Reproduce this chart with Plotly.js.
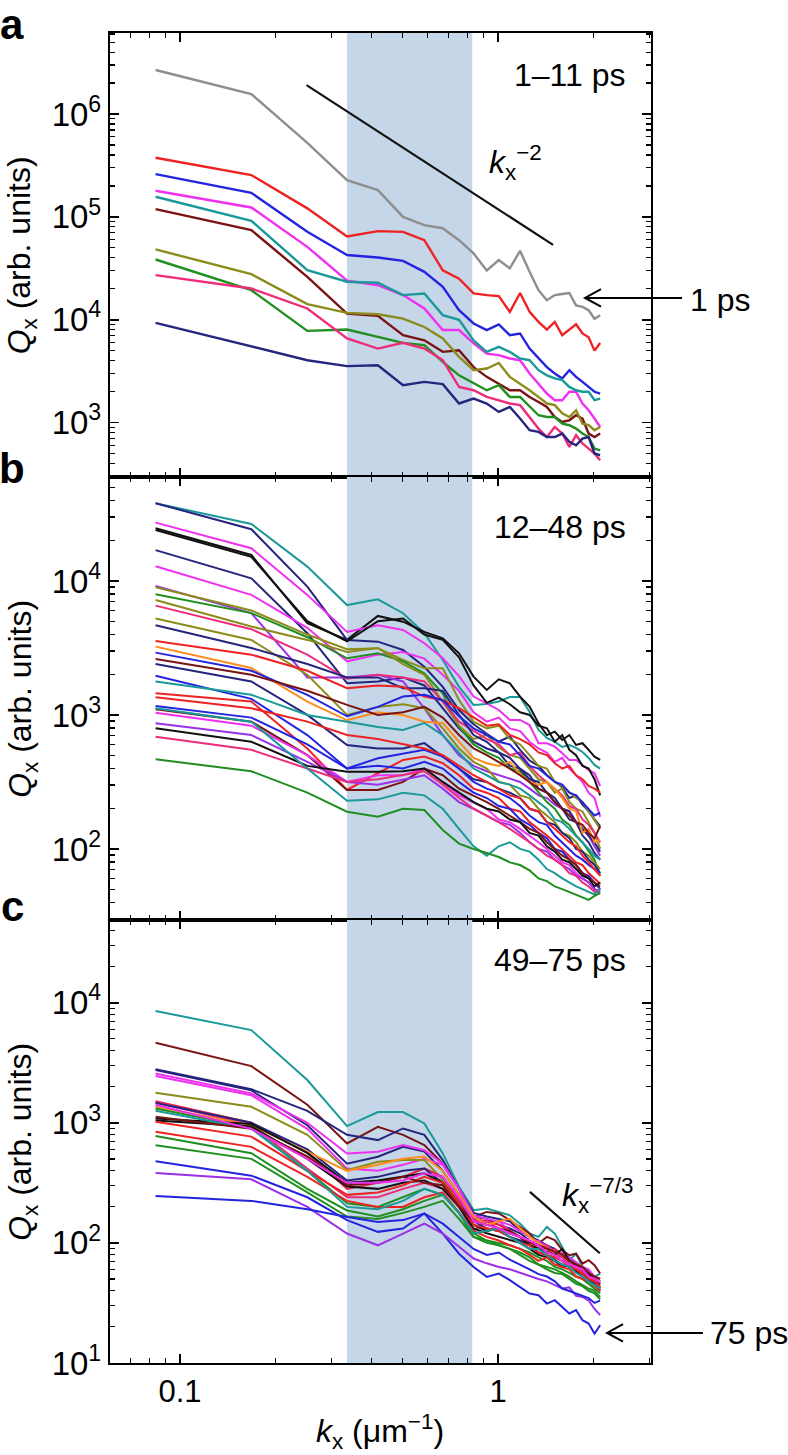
<!DOCTYPE html>
<html><head><meta charset="utf-8">
<script src="https://cdn.plot.ly/plotly-3.0.1.min.js"></script>
<style>html,body{margin:0;padding:0;background:#fff}</style>
</head><body>
<div id="chart" style="width:788px;height:1455px"></div>
<script>
// wavenumbers k_x (um^-1)
const kx = [0.0838,0.1676,0.2514,0.3352,0.419,0.5028,0.5866,0.6704,0.7542,0.838,0.9218,1.0056,1.0894,1.1732,1.257,1.3408,1.4246,1.5084,1.5922,1.676,1.7598,1.8436,1.9274,2.0112,2.095];
const bandK = [0.335, 0.83];

// ---- Panel a (1-11 ps), log10(Qx) ----
const a1 = [6.428,6.195,5.72,5.358,5.26,5.0,4.92,4.89,4.774,4.645,4.48,4.58,4.5,4.67,4.466,4.288,4.19,4.24,4.25,4.26,4.14,4.125,4.093,4.01,4.045];
const a2 = [5.575,5.407,5.083,4.81,4.862,4.855,4.774,4.48,4.4,4.256,4.24,4.23,4.077,4.26,4.077,3.98,3.905,3.98,3.85,3.905,3.957,3.867,3.83,3.70,3.775];
const a3 = [5.416,5.234,4.855,4.63,4.606,4.573,4.466,4.32,4.093,3.964,3.899,3.954,3.85,3.867,3.72,3.624,3.54,3.478,3.43,3.51,3.445,3.396,3.347,3.3,3.283];
const a4 = [5.254,5.092,4.709,4.38,4.336,4.24,4.11,3.9,3.9,3.77,3.67,3.656,3.624,3.607,3.478,3.38,3.283,3.218,3.218,3.3,3.3,3.186,3.121,3.04,2.958];
const a5 = [5.196,4.962,4.483,4.37,4.36,4.24,4.256,4.045,4.0,3.8,3.688,3.737,3.688,3.624,3.607,3.51,3.46,3.43,3.413,3.347,3.315,3.3,3.3,3.218,3.234];
const a6 = [5.076,4.872,4.417,4.061,4.038,3.85,3.8,3.688,3.704,3.54,3.445,3.38,3.315,3.315,3.25,3.2,3.153,3.055,3.007,3.023,3.072,3.04,2.894,2.86,2.894];
const a7 = [4.684,4.444,4.152,4.067,4.054,4.012,3.93,3.818,3.64,3.51,3.526,3.58,3.445,3.38,3.315,3.25,3.186,3.17,3.09,3.055,3.12,2.99,2.975,2.926,2.958];
const a8 = [4.586,4.288,3.892,3.905,3.834,3.776,3.753,3.59,3.46,3.38,3.315,3.364,3.25,3.25,3.153,3.072,3.055,3.055,2.99,2.975,2.942,2.894,2.86,2.748,2.73];
const a9 = [4.434,4.304,4.11,3.818,3.72,3.776,3.72,3.607,3.347,3.315,3.25,3.218,3.186,3.17,3.055,2.942,2.86,2.958,2.894,2.764,2.878,2.797,2.748,2.7,2.634];
const a10 = [3.97,3.737,3.607,3.549,3.558,3.364,3.396,3.374,3.186,3.234,3.186,3.104,3.153,3.04,2.926,2.91,2.86,2.86,2.894,2.813,2.78,2.845,2.86,2.7,2.683];
const panelA = [a1,a2,a3,a4,a5,a6,a7,a8,a9,a10];
const colorsA = ['#8e8e8e','#ee2222','#2424e0','#f030f0','#1a9999','#7a1414','#8c8c1c','#1f8f1f','#ee2d7a','#25257e'];

// ---- Panel b (12-48 ps), log10(Qx) ----
const b1 = [4.58,4.425,4.107,3.82,3.863,3.759,3.61,3.41,3.21,3.075,3.082,3.1,3.134,3.134,3.022,2.888,2.828,2.8,2.761,2.776,2.754,2.724,2.679,2.627,2.6];
const b2 = [4.393,4.194,3.684,3.56,3.739,3.696,3.62,3.572,3.46,3.286,3.187,3.266,3.236,3.137,3.062,2.938,2.85,2.875,2.813,2.85,2.776,2.789,2.739,2.689,2.664];
const b3 = [4.58,4.386,3.958,3.56,3.547,3.485,3.36,3.21,3.037,2.93,2.86,2.8,2.84,2.74,2.66,2.62,2.55,2.5,2.46,2.38,2.4,2.33,2.28,2.22,2.17];
const b4 = [4.435,4.244,3.896,3.62,3.67,3.634,3.535,3.423,3.29,3.137,3.087,3.037,2.963,2.963,2.925,2.789,2.789,2.763,2.714,2.664,2.664,2.627,2.59,2.565,2.47];
const b5 = [4.38,4.18,3.7,3.55,3.7,3.72,3.6,3.56,3.43,3.22,3.09,3.13,3.08,3.02,3.0,2.92,2.9,2.8,2.85,2.74,2.7,2.62,2.6,2.52,2.4];
const b6 = [4.23,4.02,3.61,3.237,3.25,3.28,3.22,3.05,2.9,2.8,2.75,2.72,2.62,2.6,2.55,2.45,2.42,2.35,2.3,2.22,2.2,2.1,2.05,1.97,1.92];
const b7 = [4.11,3.896,3.65,3.4,3.45,3.47,3.42,3.3,3.18,3.02,2.95,2.98,2.9,2.88,2.8,2.75,2.72,2.65,2.68,2.6,2.55,2.5,2.42,2.38,2.24];
const b8 = [3.963,3.76,3.28,3.28,3.3,3.25,3.05,2.85,2.7,2.62,2.58,2.55,2.52,2.5,2.45,2.4,2.38,2.33,2.3,2.28,2.2,2.15,2.1,2.02,1.95];
const b9 = [3.953,3.78,3.6,3.49,3.498,3.41,3.348,3.348,3.112,2.95,2.9,2.92,2.82,2.78,2.7,2.62,2.6,2.5,2.47,2.42,2.38,2.35,2.28,2.22,2.15];
const b10 = [3.9,3.76,3.58,3.423,3.46,3.4,3.31,3.16,2.913,2.78,2.72,2.68,2.6,2.58,2.5,2.42,2.35,2.3,2.22,2.18,2.1,2.05,1.98,1.92,1.8];
const b11 = [3.858,3.66,3.56,3.47,3.5,3.38,3.3,3.1,2.92,2.82,2.85,2.76,2.7,2.68,2.6,2.52,2.5,2.42,2.45,2.35,2.3,2.28,2.2,2.12,2.0];
const b12 = [3.816,3.64,3.45,3.27,3.3,3.28,3.25,3.1,2.95,2.88,2.82,2.78,2.7,2.72,2.62,2.55,2.5,2.45,2.4,2.32,2.3,2.22,2.18,2.12,2.05];
const b13 = [3.72,3.56,3.3,3.0,3.06,3.08,3.05,2.9,2.75,2.65,2.6,2.5,2.48,2.4,2.38,2.3,2.25,2.2,2.12,2.1,2.05,1.98,1.95,1.9,1.85];
const b14 = [3.67,3.5,3.38,3.28,3.28,3.2,3.2,3.18,3.0,2.85,2.8,2.72,2.68,2.6,2.52,2.5,2.42,2.38,2.3,2.28,2.2,2.15,2.1,2.05,1.98];
const b15 = [3.552,3.45,3.33,3.2,3.22,3.21,3.137,3.11,3.05,2.98,2.92,2.93,2.85,2.82,2.78,2.72,2.7,2.64,2.6,2.62,2.55,2.52,2.47,2.45,2.42];
const b16 = [3.51,3.35,3.1,2.96,3.02,3.0,2.95,2.94,2.8,2.68,2.64,2.62,2.65,2.56,2.5,2.48,2.5,2.45,2.38,2.3,2.28,2.12,2.15,2.05,2.07];
const b17 = [3.465,3.33,3.15,2.99,3.06,3.137,3.15,3.11,2.99,2.9,2.85,2.8,2.78,2.7,2.62,2.6,2.55,2.5,2.48,2.42,2.4,2.35,2.3,2.25,2.27];
const b18 = [3.418,3.3,3.18,3.075,3.0,3.02,3.06,2.98,2.85,2.75,2.7,2.65,2.6,2.55,2.5,2.45,2.42,2.35,2.3,2.25,2.2,2.18,2.12,2.08,2.17];
const b19 = [3.38,3.25,3.0,2.776,2.75,2.75,2.79,2.69,2.6,2.52,2.5,2.45,2.42,2.38,2.3,2.28,2.2,2.18,2.12,2.08,2.0,1.98,1.92,1.88,1.82];
const b20 = [3.293,3.12,2.85,2.6,2.677,2.714,2.74,2.69,2.6,2.5,2.45,2.42,2.38,2.32,2.25,2.2,2.18,2.1,2.05,2.0,1.95,1.92,1.88,1.85,1.82];
const b21 = [3.25,3.15,3.0,2.95,2.91,2.888,2.94,2.85,2.72,2.6,2.55,2.5,2.48,2.45,2.4,2.35,2.3,2.22,2.2,2.15,2.1,2.05,2.0,1.95,1.92];
const b22 = [3.162,3.1,2.75,2.44,2.565,2.664,2.69,2.64,2.55,2.45,2.42,2.38,2.3,2.28,2.2,2.15,2.1,2.05,2.0,1.95,1.9,1.88,1.82,1.78,1.74];
const b23 = [3.132,3.05,2.95,2.85,2.82,2.78,2.75,2.7,2.62,2.55,2.5,2.45,2.4,2.38,2.3,2.28,2.2,2.15,2.1,2.05,2.02,1.95,1.9,1.85,1.8];
const b24 = [3.067,2.98,2.78,2.6,2.62,2.6,2.65,2.6,2.5,2.42,2.38,2.32,2.3,2.22,2.18,2.12,2.08,2.0,1.98,1.92,1.88,1.82,1.8,1.75,1.7];
const b25 = [3.042,2.95,2.7,2.44,2.44,2.5,2.6,2.55,2.45,2.4,2.35,2.3,2.25,2.2,2.15,2.12,2.05,2.0,1.95,1.92,1.88,1.82,1.78,1.75,1.72];
const b26 = [3.017,2.92,2.7,2.5,2.55,2.55,2.6,2.5,2.4,2.35,2.3,2.22,2.2,2.15,2.1,2.05,2.0,1.95,1.9,1.88,1.82,1.78,1.75,1.7,1.67];
const b27 = [2.938,2.85,2.65,2.5,2.48,2.52,2.55,2.45,2.35,2.3,2.25,2.2,2.18,2.12,2.05,2.0,1.98,1.92,1.88,1.85,1.8,1.78,1.75,1.7,1.68];
const b28 = [2.9,2.8,2.62,2.577,2.577,2.58,2.6,2.5,2.42,2.35,2.3,2.28,2.22,2.2,2.12,2.1,2.02,1.98,1.92,1.9,1.85,1.8,1.78,1.72,1.75];
const b29 = [2.838,2.74,2.6,2.5,2.52,2.55,2.58,2.48,2.38,2.3,2.25,2.2,2.15,2.1,2.05,2.0,1.95,1.92,1.88,1.82,1.8,1.75,1.72,1.68,1.7];
const b30 = [3.05,2.95,2.6,2.36,2.37,2.42,2.4,2.3,2.15,2.02,1.95,2.02,2.05,2.0,1.98,1.92,1.85,1.82,1.78,1.75,1.72,1.7,1.68,1.66,1.7];
const b31 = [2.669,2.58,2.42,2.278,2.24,2.3,2.29,2.142,2.04,2.0,1.97,1.94,1.9,1.88,1.84,1.78,1.76,1.72,1.7,1.68,1.66,1.64,1.62,1.65,1.67];
const panelB = [b1,b2,b3,b4,b5,b6,b7,b8,b9,b10,b11,b12,b13,b14,b15,b16,b17,b18,b19,b20,b21,b22,b23,b24,b25,b26,b27,b28,b29,b30,b31];
const colorsB = ['#1a9999','#111111','#25257e','#f030f0','#111111','#25257e','#f030f0','#9a30e8','#8c8c1c','#1f8f1f','#8c8c1c','#ee2d7a','#8c8c1c','#25257e','#ee2222','#ff8c1a','#2424e0','#7a1414','#25257e','#2424e0','#1a9999','#ee2222','#ee2222','#2424e0','#7a1414','#f030f0','#9a30e8','#111111','#ee2d7a','#1a9999','#1f8f1f'];

// ---- Panel c (49-75 ps), log10(Qx) ----
const c1 = [3.931,3.772,3.356,2.973,3.09,3.09,2.995,2.745,2.467,2.273,2.287,2.258,2.23,2.16,2.078,2.05,2.133,2.078,1.967,1.856,1.91,1.8,1.773,1.717,1.745];
const c2 = [3.667,3.472,3.15,2.828,2.967,2.9,2.814,2.66,2.45,2.216,2.258,2.245,2.19,2.133,2.078,1.995,2.05,2.023,1.94,1.897,1.91,1.828,1.856,1.814,1.745];
const c3 = [3.447,3.28,3.1,2.9,2.856,2.953,2.9,2.69,2.45,2.25,2.22,2.2,2.18,2.1,2.05,2.02,1.98,1.95,1.9,1.88,1.82,1.8,1.75,1.72,1.68];
const c4 = [3.44,3.27,2.98,2.66,2.717,2.8,2.76,2.6,2.4,2.22,2.2,2.15,2.12,2.08,2.02,1.98,1.95,1.9,1.88,1.82,1.8,1.76,1.72,1.68,1.62];
const c5 = [3.41,3.245,3.0,2.745,2.76,2.814,2.772,2.66,2.45,2.23,2.2,2.18,2.15,2.1,2.05,2.0,1.98,1.92,1.9,1.88,1.84,1.8,1.78,1.72,1.7];
const c6 = [3.39,3.23,2.95,2.62,2.6,2.65,2.7,2.65,2.45,2.2,2.15,2.18,2.1,2.05,2.0,2.02,1.95,1.9,1.92,1.85,1.8,1.75,1.72,1.7,1.66];
const c7 = [3.25,3.133,2.9,2.606,2.675,2.69,2.69,2.523,2.35,2.15,2.12,2.1,2.05,2.02,1.98,1.95,1.9,1.88,1.85,1.8,1.78,1.75,1.72,1.68,1.65];
const c8 = [3.18,3.0,2.75,2.45,2.5,2.55,2.62,2.55,2.35,2.2,2.18,2.15,2.1,2.05,2.0,1.98,1.92,1.95,1.9,1.85,1.8,1.76,1.7,1.68,1.64];
const c9 = [3.17,2.98,2.62,2.38,2.38,2.45,2.5,2.45,2.3,2.1,2.18,2.12,2.08,2.05,2.02,1.95,1.98,1.9,1.88,1.82,1.78,1.76,1.72,1.66,1.6];
const c10 = [3.165,3.0,2.78,2.52,2.55,2.6,2.62,2.5,2.32,2.18,2.12,2.1,2.05,2.02,1.98,1.92,1.9,1.86,1.82,1.8,1.76,1.72,1.68,1.66,1.6];
const c11 = [3.133,2.98,2.76,2.6,2.65,2.7,2.72,2.6,2.4,2.22,2.15,2.18,2.2,2.12,2.05,2.0,1.95,1.92,1.9,1.85,1.82,1.8,1.72,1.7,1.68];
const c12 = [3.12,2.96,2.6,2.33,2.3,2.38,2.45,2.4,2.25,2.05,2.02,2.0,1.98,1.95,1.92,1.88,1.85,1.8,1.78,1.75,1.72,1.7,1.66,1.62,1.58];
const c13 = [3.036,2.99,2.75,2.5,2.52,2.55,2.58,2.5,2.32,2.15,2.1,2.12,2.08,2.05,1.98,1.95,1.92,1.9,1.95,1.85,1.82,1.78,1.74,1.7,1.66];
const c14 = [3.02,2.97,2.7,2.47,2.45,2.5,2.52,2.45,2.3,2.12,2.08,2.05,2.02,2.0,1.95,1.9,1.88,1.85,1.8,1.82,1.76,1.74,1.7,1.65,1.62];
const c15 = [3.008,2.885,2.6,2.4,2.42,2.48,2.55,2.5,2.32,2.15,2.12,2.1,2.05,2.0,1.98,1.92,1.9,1.88,1.85,1.8,1.78,1.74,1.7,1.68,1.63];
const c16 = [2.925,2.8,2.55,2.35,2.3,2.3,2.38,2.42,2.25,2.1,2.05,2.02,1.98,1.95,1.9,1.85,1.88,1.82,1.8,1.78,1.72,1.7,1.68,1.64,1.6];
const c17 = [2.89,2.747,2.45,2.27,2.22,2.28,2.35,2.4,2.25,2.08,2.02,1.98,1.95,1.92,1.88,1.82,1.8,1.78,1.75,1.72,1.68,1.65,1.62,1.6,1.55];
const c18 = [2.814,2.7,2.42,2.22,2.2,2.25,2.3,2.35,2.2,2.05,2.0,1.98,1.95,1.9,1.85,1.82,1.78,1.75,1.74,1.7,1.66,1.64,1.6,1.58,1.53];
const c19 = [3.1,2.95,2.6,2.3,2.28,2.35,2.45,2.4,2.25,2.08,2.1,2.12,2.05,2.0,1.95,1.95,1.9,1.85,1.82,1.8,1.75,1.72,1.68,1.65,1.62];
const c20 = [3.05,2.95,2.72,2.48,2.5,2.55,2.5,2.48,2.3,2.18,2.15,2.12,2.1,2.05,2.0,1.98,1.95,1.92,1.9,1.85,1.82,1.8,1.75,1.72,1.7];
const c21 = [3.15,2.95,2.7,2.5,2.5,2.52,2.58,2.55,2.38,2.18,2.15,2.12,2.08,2.05,2.02,1.98,1.92,1.9,1.85,1.82,1.8,1.78,1.72,1.7,1.67];
const c22 = [2.68,2.56,2.38,2.19,2.092,2.12,2.245,2.078,1.91,1.8,1.717,1.745,1.69,1.633,1.578,1.564,1.495,1.523,1.467,1.412,1.44,1.356,1.328,1.245,1.314];
const c23 = [2.583,2.53,2.3,2.078,1.98,2.078,2.16,2.078,1.967,1.87,1.83,1.8,1.78,1.75,1.72,1.7,1.68,1.65,1.62,1.63,1.56,1.55,1.52,1.45,1.4];
const c24 = [2.39,2.35,2.28,2.216,2.175,2.19,2.245,2.16,2.05,1.95,1.9,1.92,1.86,1.82,1.78,1.74,1.72,1.68,1.62,1.6,1.58,1.56,1.54,1.5,1.52];
const panelC = [c1,c2,c3,c4,c5,c6,c7,c8,c9,c10,c11,c12,c13,c14,c15,c16,c17,c18,c19,c20,c21,c22,c23,c24];
const colorsC = ['#1a9999','#7a1414','#25257e','#25257e','#f030f0','#f030f0','#8c8c1c','#e8224a','#ee2d7a','#25257e','#ff8c1a','#1f8f1f','#111111','#111111','#ee2222','#ee2222','#1f8f1f','#1f8f1f','#1a9999','#7a1414','#f030f0','#2424e0','#9a30e8','#2424e0'];

// power-law guide lines
const guideA_k = [0.25, 1.49];
const guideA_q = [1.91e6, 5.35e4];
const guideC_k = [1.26, 2.09];
const guideC_q = [266, 82];

const FONT = 'Liberation Sans, Arial, Helvetica, sans-serif';
const toQ = arr => arr.map(v => Math.pow(10, v));

const traces = [];
const axes = [['x','y'],['x2','y2'],['x3','y3']];
const panels = [[panelA, colorsA],[panelB, colorsB],[panelC, colorsC]];
panels.forEach((p, i) => {
  const [xa, ya] = axes[i];
  traces.push({x:[bandK[0],bandK[1],bandK[1],bandK[0],bandK[0]], y:[1e-3,1e-3,1e9,1e9,1e-3],
    xaxis:xa, yaxis:ya, mode:'lines', fill:'toself', fillcolor:'rgb(197,214,233)',
    line:{width:0, color:'rgba(0,0,0,0)'}, hoverinfo:'skip', showlegend:false});
  p[0].forEach((s, j) => {
    traces.push({x:kx, y:toQ(s), xaxis:xa, yaxis:ya, mode:'lines',
      line:{color:p[1][j], width: i===0 ? 2.4 : 2}, hoverinfo:'skip', showlegend:false});
  });
});
traces.push({x:guideA_k, y:guideA_q, xaxis:'x', yaxis:'y', mode:'lines', line:{color:'#111', width:2.2}, showlegend:false, hoverinfo:'skip'});
traces.push({x:guideC_k, y:guideC_q, xaxis:'x3', yaxis:'y3', mode:'lines', line:{color:'#111', width:2.2}, showlegend:false, hoverinfo:'skip'});

const xMinor = [0.07,0.08,0.09,0.2,0.3,0.4,0.5,0.6,0.7,0.8,0.9,2,3];
function xax(anchor, labels){
  const a = {type:'log', range:[-1.2201,0.4811], anchor:anchor, domain:[0,1],
    showline:true, linecolor:'#000', linewidth:2.2, mirror:'ticks',
    ticks:'inside', ticklen:9, tickwidth:1.6, tickcolor:'#000',
    tickmode:'array', tickvals:[0.1,1], showticklabels:labels,
    tickfont:{family:FONT, size:31, color:'#000'},
    minor:{ticks:'inside', ticklen:5, tickwidth:1.2, tickcolor:'#000', tickmode:'array', tickvals:xMinor, showgrid:false},
    showgrid:false, zeroline:false, fixedrange:true};
  if (labels) a.ticktext = ['0.1','1'];
  return a;
}
function yax(anchor, dom, range, decades){
  const minors = [];
  for (let d = Math.floor(range[0]); d <= Math.ceil(range[1]); d++) {
    for (let m = 2; m <= 9; m++) minors.push(m * Math.pow(10, d));
  }
  return {type:'log', range:range, anchor:anchor, domain:dom,
    showline:true, linecolor:'#000', linewidth:2.2, mirror:'ticks',
    ticks:'inside', ticklen:9, tickwidth:1.6, tickcolor:'#000',
    tickmode:'array', tickvals:decades.map(d => Math.pow(10, d)),
    ticktext:decades.map(d => '10<sup>' + d + '</sup>'),
    tickfont:{family:FONT, size:33, color:'#000'},
    minor:{ticks:'inside', ticklen:5, tickwidth:1.2, tickcolor:'#000', tickmode:'array', tickvals:minors, showgrid:false},
    showgrid:false, zeroline:false, fixedrange:true};
}

const ann = (text, x, y, opts) => Object.assign({text:text, x:x, y:y, xref:'paper', yref:'paper',
  xanchor:'center', yanchor:'middle', showarrow:false,
  font:{family:FONT, size:32, color:'#000'}}, opts || {});

const YT = {family:FONT, size:32, color:'#000'};
const LBL = {family:FONT, size:42, color:'#000'};
const annotations = [
  ann('<b>a</b>', -0.181, 1.0248, {yanchor:'top', font:LBL, borderpad:0}),
  ann('<b>b</b>', -0.181, 0.6722, {font:LBL}),
  ann('<b>c</b>', -0.181, 0.3436, {font:LBL}),
  ann('1–11 ps', 0.958, 0.9684, {xanchor:'right'}),
  ann('12–48 ps', 0.958, 0.6286, {xanchor:'right'}),
  ann('49–75 ps', 0.958, 0.303, {xanchor:'right'}),
  ann('<i>k</i><sub>x</sub><sup>−2</sup>', 0.697, 0.903, {xanchor:'left'}),
  ann('<i>k</i><sub>x</sub><sup>−7/3</sup>', 0.832, 0.1263, {xanchor:'left'}),
  ann('1 ps', 1.068, 0.7992, {xanchor:'left'}),
  ann('75 ps', 1.1054, 0.0226, {xanchor:'left'}),
  ann('<i>Q</i><sub>x</sub> (arb. units)', -0.162, 0.5, {yref:'y domain', textangle:-90, font:YT}),
  ann('<i>Q</i><sub>x</sub> (arb. units)', -0.162, 0.5, {yref:'y2 domain', textangle:-90, font:YT}),
  ann('<i>Q</i><sub>x</sub> (arb. units)', -0.162, 0.5, {yref:'y3 domain', textangle:-90, font:YT}),
  ann('<i>k</i><sub>x</sub> (μm<sup>−1</sup>)', 0.499, -0.0515, {font:{family:FONT, size:32, color:'#000'}})
];

const shapes = [
  {type:'path', xref:'paper', yref:'paper', line:{color:'#000', width:2},
   path:'M 0.878 0.8008 L 1.0573 0.8008 M 0.9076 0.8074 L 0.878 0.8008 L 0.9076 0.7942'},
  {type:'path', xref:'paper', yref:'paper', line:{color:'#000', width:2},
   path:'M 0.9187 0.0226 L 1.0961 0.0226 M 0.9483 0.0292 L 0.9187 0.0226 L 0.9483 0.016'}
];

const layout = {
  width:788, height:1455, margin:{l:110, r:137, t:33, b:92},
  paper_bgcolor:'#fff', plot_bgcolor:'#fff', showlegend:false,
  font:{family:FONT, color:'#000'},
  xaxis: xax('y', false), xaxis2: xax('y2', false), xaxis3: xax('y3', true),
  yaxis: yax('x', [0.6662, 1], [2.472, 6.788], [3,4,5,6]),
  yaxis2: yax('x2', [0.3331, 0.6662], [1.47, 4.776], [2,3,4]),
  yaxis3: yax('x3', [0, 0.3331], [1.0, 4.689], [1,2,3,4]),
  annotations: annotations, shapes: shapes
};

Plotly.newPlot('chart', traces, layout, {staticPlot:true, displayModeBar:false});
</script>
</body></html>
